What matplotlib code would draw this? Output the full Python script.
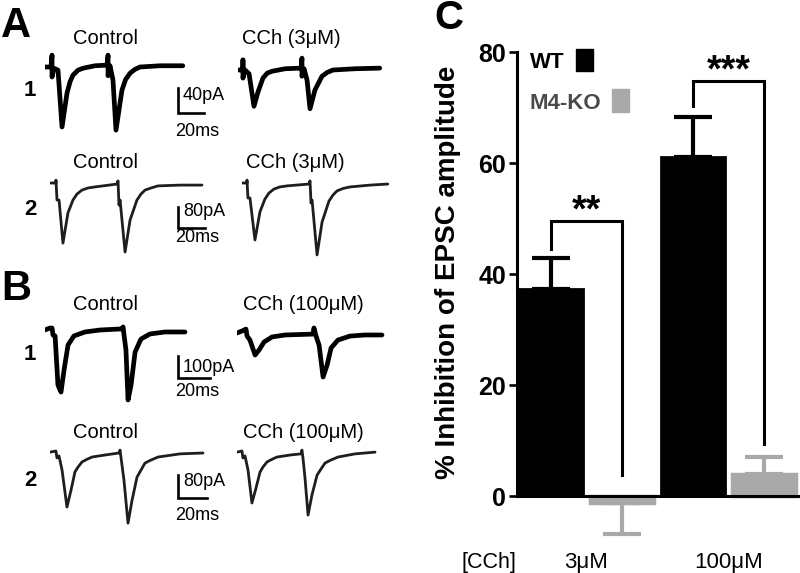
import numpy as np
import matplotlib.pyplot as plt
from matplotlib.patches import Rectangle

plt.rcParams['font.family'] = ['Liberation Sans', 'DejaVu Sans']

W, H = 800, 573

a1_ctrl_t = [0, 4.6, 5.4, 5.4, 6.9, 10.0, 13.1, 16.9, 19.2, 21.5, 25.4, 29.2, 38.5, 47.7, 48.5, 48.5, 50.0, 52.3, 54.6, 59.2, 62.0, 65.4, 69.0, 73.1, 88.5, 106.0]
a1_ctrl_i = [0, 0, 19, -16, -2, -5, -96, -42, -24, -13, -5, -2, 2, 3, 19, -14, 2, -21, -101, -37, -20, -10, -4, 0, 2, 2]
a1_cch_t = [0, 3.8, 3.8, 3.8, 5.4, 8.5, 12.3, 15.4, 19.2, 22.5, 26.2, 36.2, 48.5, 49.2, 49.2, 50.8, 53.1, 55.4, 59.2, 64.6, 68.5, 73.1, 90.0, 109.0]
a1_cch_i = [0, 0, 16, -13, 0, -6, -58, -35, -13, -5, -2, 2, 3, 19, -10, 2, -16, -62, -32, -10, -4, 0, 2, 3]

a2_ctrl_t = [0, 4.4, 4.4, 5.2, 6.7, 9.6, 13.3, 17.0, 20.0, 23.7, 28.1, 33.3, 49.6, 50.4, 51.1, 51.9, 55.6, 59.3, 64.4, 67.4, 70.4, 74.8, 80.0, 96.3, 112.6]
a2_ctrl_i = [0, 0, 11, -65, -65, -229, -114, -65, -42, -27, -19, -15, -4, 8, -84, -65, -263, -141, -65, -42, -27, -19, -11, -8, -8]
a2_cch_t = [0, 3.7, 3.7, 4.4, 5.9, 9.6, 13.3, 17.0, 20.0, 23.7, 28.1, 33.3, 49.6, 50.4, 51.1, 51.9, 55.6, 59.3, 64.4, 67.4, 70.4, 74.8, 80.0, 94.8, 108.0]
a2_cch_i = [0, 0, 11, -57, -57, -217, -110, -61, -38, -23, -15, -11, -4, 8, -76, -65, -274, -149, -69, -46, -30, -21, -15, -8, -4]

b1_ctrl_t = [0, 3.1, 4.4, 5.0, 6.3, 8.1, 10.0, 11.9, 14.4, 18.1, 25.0, 34.4, 48.1, 48.8, 49.4, 50.6, 51.9, 53.8, 56.3, 60.0, 65.6, 75.0, 87.5]
b1_ctrl_i = [0, 9, 9, -23, -27, -250, -282, -182, -68, -27, -9, 0, 5, 14, -23, -91, -318, -250, -100, -41, -18, -9, -9]
b1_cch_t = [0, 3.1, 5.6, 6.3, 8.1, 11.3, 13.8, 16.9, 21.9, 30.0, 47.5, 48.1, 49.4, 51.3, 53.8, 56.3, 58.8, 63.1, 70.6, 80.0, 90.6]
b1_cch_i = [0, 9, 18, -14, -32, -100, -77, -41, -18, -9, -5, 23, -14, -55, -200, -146, -68, -32, -14, -9, -9]

b2_ctrl_t = [0, 4.1, 4.8, 6.2, 8.3, 11.7, 14.5, 17.2, 19.3, 22.1, 25.5, 29.0, 37.9, 47.6, 48.3, 49.0, 51.0, 53.8, 56.6, 60.0, 62.8, 65.5, 69.0, 74.5, 89.7, 105.5]
b2_ctrl_i = [3, 7, -17, -10, -59, -188, -129, -66, -49, -31, -22, -14, -7, 0, 10, -17, -94, -244, -164, -84, -59, -35, -26, -14, -3, 0]
b2_cch_t = [0, 3.4, 4.1, 5.5, 7.6, 10.3, 13.1, 15.9, 17.9, 20.7, 24.1, 27.6, 36.6, 44.1, 44.8, 45.5, 46.9, 49.0, 51.7, 55.2, 57.9, 60.7, 64.1, 69.7, 81.4, 95.2]
b2_cch_i = [3, 7, -17, -10, -59, -174, -122, -66, -49, -31, -22, -14, -7, -3, 10, -17, -87, -216, -146, -77, -56, -35, -26, -14, -3, 3]

# scale bars (pA, ms)
bar_pa = [40, 80, 100, 80]
bar_ms = [20, 20, 20, 20]
cch_labels = ['CCh (3μM)', 'CCh (3μM)', 'CCh (100μM)', 'CCh (100μM)']

# ---- panel C ----
groups = ['3μM', '100μM']
wt_mean = [37.3, 61.2]
wt_sem = [5.6, 7.2]
ko_mean = [-1.2, 4.1]
ko_sem = [5.5, 2.9]
stars = ['**', '***']
br_left = [44.6, 70.3]
br_top = [49.5, 74.8]
br_right = [3.8, 9.5]

fig = plt.figure(figsize=(8, 5.73), dpi=100)


def px(x, y):
    return x / W, 1 - y / H


def trace_ax(x0, ybase, pms, ppa, tmax=120, imin=-400, imax=60):
    top = ybase - imax * ppa
    bot = ybase - imin * ppa
    ax = fig.add_axes([x0 / W, 1 - bot / H, tmax * pms / W, (bot - top) / H])
    ax.set_xlim(0, tmax)
    ax.set_ylim(imin, imax)
    ax.axis('off')
    return ax


# row layout: ctrl (x0, ybase), cch (x0, ybase), px per ms, px per pA, scale bar corner y, label y's
rows = [
    dict(t=(a1_ctrl_t, a1_cch_t), i=(a1_ctrl_i, a1_cch_i), c=(45, 67), h=(238, 70), pms=1.3, ppa=0.625,
         sb=113, ty=38, ny=90, pay=96, msy=131, col='black', lw=3.4),
    dict(t=(a2_ctrl_t, a2_cch_t), i=(a2_ctrl_i, a2_cch_i), c=(50, 183), h=(242, 183), pms=1.35, ppa=0.2625,
         sb=228, ty=162, ny=209, pay=212, msy=238, col='#1e1e1e', lw=2.0),
    dict(t=(b1_ctrl_t, b1_cch_t), i=(b1_ctrl_i, b1_cch_i), c=(45, 330), h=(237, 333), pms=1.6, ppa=0.22,
         sb=378, ty=305, ny=355, pay=368, msy=392, col='black', lw=3.4),
    dict(t=(b2_ctrl_t, b2_cch_t), i=(b2_ctrl_i, b2_cch_i), c=(50, 453), h=(237, 453), pms=1.45, ppa=0.2875,
         sb=498, ty=432, ny=480, pay=482, msy=516, col='#1e1e1e', lw=2.0),
]

for k, r in enumerate(rows):
    axc = trace_ax(r['c'][0], r['c'][1], r['pms'], r['ppa'])
    axc.plot(r['t'][0], r['i'][0], color=r['col'], lw=r['lw'], solid_joinstyle='round',
             solid_capstyle='round')
    axh = trace_ax(r['h'][0], r['h'][1], r['pms'], r['ppa'])
    axh.plot(r['t'][1], r['i'][1], color=r['col'], lw=r['lw'], solid_joinstyle='round',
             solid_capstyle='round')
    # scale bar in the control axes data units
    tc = (178 - r['c'][0]) / r['pms']
    ic = -(r['sb'] - r['c'][1]) / r['ppa']
    axc.plot([tc, tc, tc + bar_ms[k]], [ic + bar_pa[k], ic, ic], color='black', lw=1.9,
             clip_on=False, solid_joinstyle='miter')
    fig.text(*px(183, r['pay']), f'{bar_pa[k]}pA', fontsize=13, va='center', ha='left')
    fig.text(*px(175, r['msy']), f'{bar_ms[k]}ms', fontsize=13, va='center', ha='left')
    fig.text(*px(105, r['ty']), 'Control', fontsize=14.5, ha='center', va='center')
    fig.text(*px(r['h'][0] + 53 + (13 if k >= 2 else 0), r['ty']), cch_labels[k], fontsize=14.5,
             ha='center', va='center')
    fig.text(*px(30, r['ny']), '1' if k % 2 == 0 else '2', fontsize=16, fontweight='bold',
             ha='center', va='center')

fig.text(*px(16, 26), 'A', fontsize=30, fontweight='bold', ha='center', va='center')
fig.text(*px(16, 289), 'B', fontsize=30, fontweight='bold', ha='center', va='center')
fig.text(*px(449, 18), 'C', fontsize=29, fontweight='bold', ha='center', va='center')

# ---- bar chart ----
ax = fig.add_axes([517 / W, 1 - 563 / H, 283 / W, (563 - 41) / H])
ax.set_xlim(-0.48, 3.51)
ax.set_ylim(-12, 82)

x = np.arange(len(groups)) * 2
gray = '#a9a9a9'
ax.bar(x, wt_mean, width=0.9, color='black', edgecolor='black', lw=2, zorder=2)
ax.bar(x + 1, ko_mean, width=0.9, color=gray, edgecolor=gray, lw=2.5, zorder=2)

for xs, m, s, c in [(x, wt_mean, wt_sem, 'black'), (x + 1, ko_mean, ko_sem, gray)]:
    lo = [e if v < 0 else 0 for v, e in zip(m, s)]
    hi = [e if v >= 0 else 0 for v, e in zip(m, s)]
    ax.errorbar(xs, m, yerr=[lo, hi], fmt='none', ecolor=c, elinewidth=3, capsize=14,
                capthick=3, zorder=1)

for j in range(len(groups)):
    ax.plot([x[j], x[j], x[j] + 1, x[j] + 1], [br_left[j], br_top[j], br_top[j], br_right[j]],
            color='black', lw=2.2, solid_joinstyle='miter', zorder=3)
    ax.text(x[j] + 0.5, br_top[j] + 1.8, stars[j], fontsize=27, fontweight='bold',
            ha='center', va='center')
    ax.text(x[j] + 0.5, -11.9, groups[j], fontsize=16, ha='center', va='center', clip_on=False)
ax.text(-0.88, -11.9, '[CCh]', fontsize=15.5, ha='center', va='center', clip_on=False)

# legend
ax.text(-0.30, 78.2, 'WT', fontsize=16, fontweight='bold', ha='left', va='center')
ax.add_patch(Rectangle((0.354, 76.6), 0.24, 3.9, color='black', clip_on=False))
ax.text(-0.30, 70.8, 'M4-KO', fontsize=16, fontweight='bold', color='#4a4a4a', ha='left', va='center')
ax.add_patch(Rectangle((0.863, 69.2), 0.24, 4.1, color=gray, clip_on=False))

ax.set_yticks([0, 20, 40, 60, 80])
ax.set_xticks([])
for lab in ax.get_yticklabels():
    lab.set_fontweight('bold')
ax.tick_params(axis='y', labelsize=18, length=6, width=1.9, pad=2)
for s in ['top', 'right']:
    ax.spines[s].set_visible(False)
ax.spines['left'].set_bounds(0, 80)
ax.spines['left'].set_linewidth(2.2)
ax.spines['bottom'].set_position(('data', 0))
ax.spines['bottom'].set_linewidth(2.2)
ax.patch.set_alpha(0)

fig.text(*px(448, 272), '% Inhibition of EPSC amplitude', rotation=90, fontsize=20,
         fontweight='bold', ha='center', va='center')

fig.savefig('out.png', dpi=100)
